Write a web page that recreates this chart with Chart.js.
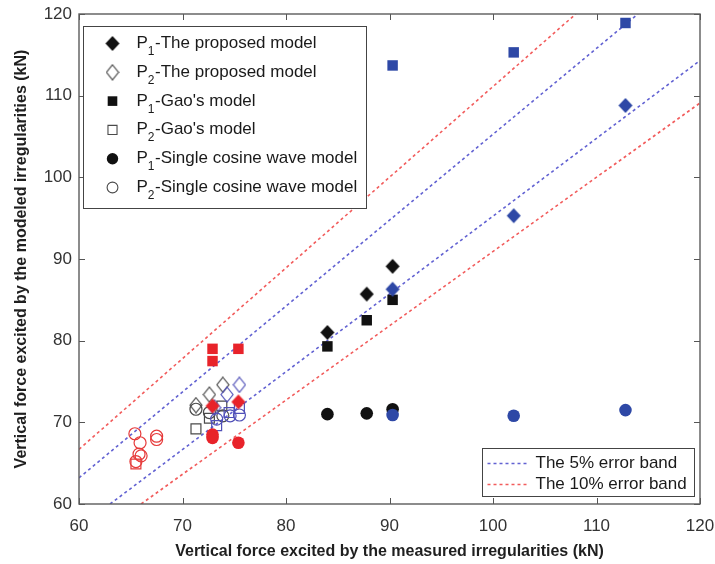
<!DOCTYPE html>
<html>
<head>
<meta charset="utf-8">
<script src="https://cdn.jsdelivr.net/npm/chart.js@4.4.1/dist/chart.umd.min.js"></script>
<style>
  html, body { margin: 0; padding: 0; background: #ffffff; }
  #wrap { width: 715px; height: 564px; }
</style>
</head>
<body>
<div id="wrap"><canvas id="chart" width="715" height="564"></canvas></div>
<script>
// Vertical force (kN): measured irregularities (x) vs. modeled irregularities (y)
const tickValues = [60, 70, 80, 90, 100, 110, 120];

// P1 results (filled markers), one array per case colour and model
const blackP1Proposed = [[84.0, 81.0], [87.8, 85.7], [90.3, 89.1]];
const blackP1Gao      = [[84.0, 79.3], [87.8, 82.5], [90.3, 85.0]];
const blackP1Cosine   = [[84.0, 71.0], [87.8, 71.1], [90.3, 71.6]];
const blueP1Proposed  = [[90.3, 86.3], [102.0, 95.3], [112.8, 108.8]];
const blueP1Gao       = [[90.3, 113.7], [102.0, 115.3], [112.8, 118.9]];
const blueP1Cosine    = [[90.3, 70.9], [102.0, 70.8], [112.8, 71.5]];
const redP1Proposed   = [[72.9, 72.0], [75.4, 72.5]];
const redP1Gao        = [[72.9, 79.0], [72.9, 77.5], [75.4, 79.0]];
const redP1Cosine     = [[72.9, 68.5], [72.9, 68.1], [75.4, 67.5]];

// P2 results (open markers)
const blackP2Proposed = [[71.3, 72.1], [72.6, 73.4], [73.9, 74.6]];
const blackP2Gao      = [[71.3, 69.2], [72.6, 70.5], [73.8, 72.0]];
const blackP2Cosine   = [[71.3, 71.6], [72.6, 71.2], [73.9, 70.8]];
const blueP2Proposed  = [[73.1, 71.8], [74.3, 73.4], [75.5, 74.6]];
const blueP2Gao       = [[73.3, 69.6], [74.5, 71.2], [75.5, 71.7]];
const blueP2Cosine    = [[73.3, 70.4], [74.6, 70.8], [75.5, 70.9]];
const redP2Gao        = [[65.5, 64.9]];
const redP2Cosine     = [[65.4, 68.6], [65.9, 67.5], [65.8, 66.1], [66.0, 65.9], [65.5, 65.2], [67.5, 68.3], [67.5, 67.9]];

// Error band lines (end points)
const band5Upper  = [[60, 63.2], [114.0, 120]];
const band5Lower  = [[63.0, 60], [120, 114.3]];
const band10Upper = [[60, 66.7], [108.0, 120]];
const band10Lower = [[66.0, 60], [120, 109.1]];

const FONT = '"Liberation Sans", Arial, Helvetica, sans-serif';
const BLACK = '#111111', BLUE = '#2e48a6', RED = '#e8232a';
const BLACK_OPEN = '#4a4a4a', BLUE_OPEN = '#5050b8', RED_OPEN = '#e63a3a';
const BAND5 = '#6262d2', BAND10 = '#f25c5c';
const NONE = 'rgba(0,0,0,0)';

const toXY = arr => arr.map(([x, y]) => ({ x, y }));

// diamond marker drawn once into a small canvas
function diamond(w, h, color, filled) {
  const c = document.createElement('canvas');
  c.width = w + 2;
  c.height = h + 2;
  const g = c.getContext('2d');
  const cx = c.width / 2, cy = c.height / 2;
  g.beginPath();
  g.moveTo(cx, cy - h / 2);
  g.lineTo(cx + w / 2, cy);
  g.lineTo(cx, cy + h / 2);
  g.lineTo(cx - w / 2, cy);
  g.closePath();
  if (filled) {
    g.fillStyle = color;
    g.fill();
  } else {
    g.strokeStyle = color;
    g.lineWidth = 1.2;
    g.stroke();
  }
  return c;
}

const diamonds = {
  [BLACK]: diamond(14, 15, BLACK, true),
  [BLUE]: diamond(14, 15, BLUE, true),
  [RED]: diamond(14, 15, RED, true),
  [BLACK_OPEN]: diamond(12, 15, BLACK_OPEN, false),
  [BLUE_OPEN]: diamond(12, 15, BLUE_OPEN, false),
  [RED_OPEN]: diamond(12, 15, RED_OPEN, false)
};

// marker sizes per model
const shapes = {
  gao:    { pointStyle: 'rect',   filled: 7.4, open: 7 },
  cosine: { pointStyle: 'circle', filled: 6.3, open: 6 }
};

function markerSet(label, data, model, color, filled, order) {
  const base = {
    type: 'scatter',
    label,
    data: toXY(data),
    order
  };
  if (model === 'proposed') {
    return Object.assign(base, { pointStyle: diamonds[color], pointRadius: 7, pointHoverRadius: 7 });
  }
  const s = shapes[model];
  const r = filled ? s.filled : s.open;
  return Object.assign(base, {
    pointStyle: s.pointStyle,
    pointRadius: r,
    pointHoverRadius: r,
    backgroundColor: filled ? color : NONE,
    borderColor: color,
    borderWidth: filled ? 0 : 1.2
  });
}

function bandLine(label, data, color) {
  return {
    type: 'line',
    label,
    data: toXY(data),
    borderColor: color,
    borderWidth: 1.6,
    borderDash: [3, 3],
    pointRadius: 0,
    fill: false,
    order: 100
  };
}

const datasets = [
  bandLine('band5Upper', band5Upper, BAND5),
  bandLine('band5Lower', band5Lower, BAND5),
  bandLine('band10Upper', band10Upper, BAND10),
  bandLine('band10Lower', band10Lower, BAND10),

  markerSet('black P2 proposed', blackP2Proposed, 'proposed', BLACK_OPEN, false, 60),
  markerSet('black P2 Gao', blackP2Gao, 'gao', BLACK_OPEN, false, 59),
  markerSet('black P2 cosine', blackP2Cosine, 'cosine', BLACK_OPEN, false, 58),
  markerSet('blue P2 proposed', blueP2Proposed, 'proposed', BLUE_OPEN, false, 57),
  markerSet('blue P2 Gao', blueP2Gao, 'gao', BLUE_OPEN, false, 56),
  markerSet('blue P2 cosine', blueP2Cosine, 'cosine', BLUE_OPEN, false, 55),
  markerSet('red P2 Gao', redP2Gao, 'gao', RED_OPEN, false, 54),
  markerSet('red P2 cosine', redP2Cosine, 'cosine', RED_OPEN, false, 53),

  markerSet('black P1 proposed', blackP1Proposed, 'proposed', BLACK, true, 40),
  markerSet('black P1 Gao', blackP1Gao, 'gao', BLACK, true, 39),
  markerSet('black P1 cosine', blackP1Cosine, 'cosine', BLACK, true, 38),
  markerSet('blue P1 proposed', blueP1Proposed, 'proposed', BLUE, true, 37),
  markerSet('blue P1 Gao', blueP1Gao, 'gao', BLUE, true, 36),
  markerSet('blue P1 cosine', blueP1Cosine, 'cosine', BLUE, true, 35),
  markerSet('red P1 proposed', redP1Proposed, 'proposed', RED, true, 34),
  markerSet('red P1 Gao', redP1Gao, 'gao', RED, true, 33),
  markerSet('red P1 cosine', redP1Cosine, 'cosine', RED, true, 32)
];

// legend rows: subscript index, description, model shape, filled or open
const markerLegend = [
  { sub: '1', text: '-The proposed model', model: 'proposed', filled: true },
  { sub: '2', text: '-The proposed model', model: 'proposed', filled: false },
  { sub: '1', text: "-Gao's model", model: 'gao', filled: true },
  { sub: '2', text: "-Gao's model", model: 'gao', filled: false },
  { sub: '1', text: '-Single cosine wave model', model: 'cosine', filled: true },
  { sub: '2', text: '-Single cosine wave model', model: 'cosine', filled: false }
];
const bandLegend = [
  { text: 'The 5% error band', color: BAND5 },
  { text: 'The 10% error band', color: BAND10 }
];

// frame with inward ticks on all four sides, plus both legend boxes
const framePlugin = {
  id: 'frameAndLegends',
  afterDatasetsDraw(chart) {
    const { ctx, chartArea: a, scales: { x, y } } = chart;
    ctx.save();

    // ticks
    ctx.strokeStyle = '#555555';
    ctx.lineWidth = 1;
    ctx.beginPath();
    x.ticks.forEach(t => {
      const px = Math.round(x.getPixelForValue(t.value)) + 0.5;
      ctx.moveTo(px, a.bottom); ctx.lineTo(px, a.bottom - 6);
      ctx.moveTo(px, a.top); ctx.lineTo(px, a.top + 6);
    });
    y.ticks.forEach(t => {
      const py = Math.round(y.getPixelForValue(t.value)) + 0.5;
      ctx.moveTo(a.left, py); ctx.lineTo(a.left + 6, py);
      ctx.moveTo(a.right, py); ctx.lineTo(a.right - 6, py);
    });
    ctx.stroke();

    // box
    ctx.strokeStyle = '#5c5c5c';
    ctx.lineWidth = 1.4;
    ctx.strokeRect(a.left, a.top, a.right - a.left, a.bottom - a.top);

    // marker legend (upper left)
    const l1 = { x: a.left + 4.5, y: a.top + 12.5, w: 283, h: 182 };
    ctx.fillStyle = '#ffffff';
    ctx.fillRect(l1.x, l1.y, l1.w, l1.h);
    ctx.strokeStyle = '#444444';
    ctx.lineWidth = 1;
    ctx.strokeRect(l1.x, l1.y, l1.w, l1.h);
    markerLegend.forEach((e, i) => {
      const cy = l1.y + 17 + i * 28.8;
      const mx = l1.x + 29;
      if (e.model === 'proposed') {
        const img = diamonds[e.filled ? BLACK : BLACK_OPEN];
        ctx.drawImage(img, mx - img.width / 2, cy - img.height / 2);
      } else {
        const s = shapes[e.model];
        ctx.fillStyle = e.filled ? BLACK : NONE;
        ctx.strokeStyle = BLACK_OPEN;
        ctx.lineWidth = 1.1;
        Chart.helpers.drawPoint(ctx, {
          pointStyle: s.pointStyle,
          radius: e.filled ? s.filled - 0.6 : s.open - 0.6,
          rotation: 0,
          borderWidth: e.filled ? 0 : 1.1
        }, mx, cy);
      }

      let tx = l1.x + 53;
      const base = cy + 4.5;
      ctx.fillStyle = '#1a1a1a';
      ctx.textAlign = 'left';
      ctx.textBaseline = 'alphabetic';
      ctx.font = '17px ' + FONT;
      ctx.fillText('P', tx, base);
      tx += ctx.measureText('P').width;
      ctx.font = '12px ' + FONT;
      ctx.fillText(e.sub, tx, base + 7);
      tx += ctx.measureText(e.sub).width + 0.5;
      ctx.font = '17px ' + FONT;
      ctx.fillText(e.text, tx, base);
    });

    // error band legend (lower right)
    const l2 = { w: 212, h: 48 };
    l2.x = a.right - 5.5 - l2.w;
    l2.y = a.bottom - 7.5 - l2.h;
    ctx.fillStyle = '#ffffff';
    ctx.fillRect(l2.x, l2.y, l2.w, l2.h);
    ctx.strokeStyle = '#444444';
    ctx.lineWidth = 1;
    ctx.strokeRect(l2.x, l2.y, l2.w, l2.h);
    bandLegend.forEach((e, i) => {
      const cy = l2.y + 15 + i * 21;
      ctx.strokeStyle = e.color;
      ctx.lineWidth = 1.6;
      ctx.setLineDash([3, 3]);
      ctx.beginPath();
      ctx.moveTo(l2.x + 5, cy);
      ctx.lineTo(l2.x + 47, cy);
      ctx.stroke();
      ctx.setLineDash([]);
      ctx.fillStyle = '#1a1a1a';
      ctx.font = '17px ' + FONT;
      ctx.textAlign = 'left';
      ctx.textBaseline = 'middle';
      ctx.fillText(e.text, l2.x + 53, cy);
    });

    ctx.restore();
  }
};

const tickFont = { family: FONT, size: 17 };
const titleFont = { family: FONT, size: 16, weight: 'bold' };

// drop the label overflow padding so the plot box sits at fixed margins
function noOverflow(s) {
  s.paddingLeft = 0;
  s.paddingRight = 0;
  s.paddingTop = 0;
  s.paddingBottom = 0;
}

new Chart(document.getElementById('chart'), {
  data: { datasets },
  options: {
    responsive: false,
    animation: false,
    devicePixelRatio: 1,
    layout: { padding: { top: 14, right: 15, left: 0, bottom: 0 } },
    plugins: { legend: { display: false }, tooltip: { enabled: false } },
    scales: {
      x: {
        type: 'linear',
        min: 60, max: 120,
        afterBuildTicks: s => { s.ticks = tickValues.map(v => ({ value: v })); },
        afterFit: s => { s.height = 60; noOverflow(s); },
        grid: { display: false, drawTicks: false },
        border: { display: false },
        ticks: { color: '#333333', font: tickFont, padding: 12, maxRotation: 0, autoSkip: false },
        title: {
          display: true,
          text: 'Vertical force excited by the measured irregularities (kN)',
          color: '#1f1f1f', font: titleFont, padding: { top: 0, bottom: 3 }
        }
      },
      y: {
        type: 'linear',
        min: 60, max: 120,
        afterBuildTicks: s => { s.ticks = tickValues.map(v => ({ value: v })); },
        afterFit: s => { s.width = 79; noOverflow(s); },
        grid: { display: false, drawTicks: false },
        border: { display: false },
        ticks: { color: '#333333', font: tickFont, padding: 7, autoSkip: false },
        title: {
          display: true,
          text: 'Vertical force excited by the modeled irregularities (kN)',
          color: '#1f1f1f', font: titleFont, padding: { top: 12, bottom: 0 }
        }
      }
    }
  },
  plugins: [framePlugin]
});
</script>
</body>
</html>
